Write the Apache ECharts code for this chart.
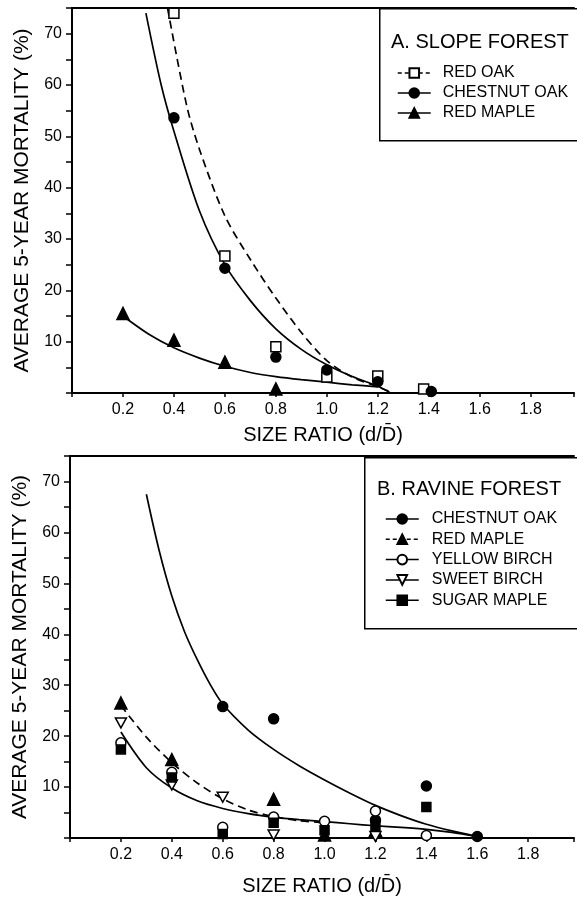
<!DOCTYPE html>
<html>
<head>
<meta charset="utf-8">
<script src="https://cdn.jsdelivr.net/npm/echarts@6/dist/echarts.min.js"></script>
<style>
  html, body { margin: 0; padding: 0; background: #fff; }
  #chart { width: 577px; height: 897px; }
</style>
</head>
<body>
<div id="chart"></div>
<script>
// ---- Panel A: slope forest, points [size ratio, mortality %]
const aRedOak = [[0.4, 74], [0.6, 26.7], [0.8, 9], [1.0, 3.1], [1.2, 3.3], [1.38, 0.8]]
const aChestnutOak = [[0.4, 53.6], [0.6, 24.3], [0.8, 7], [1.0, 4.5], [1.2, 2.2], [1.41, 0.3]]
const aRedMaple = [[0.2, 15.5], [0.4, 10.3], [0.6, 6], [0.8, 0.8]]

// fitted curves
const aRedOakFit = [[0.375, 75], [0.45, 56], [0.5, 47.5], [0.6, 34.5], [0.7, 26], [0.8, 18.5], [0.9, 11.8], [1.0, 6.3], [1.1, 3.1], [1.2, 1.2], [1.26, 0]]
const aChestnutOakFit = [[0.29, 74], [0.35, 60], [0.4, 51], [0.5, 35.5], [0.6, 25], [0.7, 18], [0.8, 12.5], [0.9, 8.5], [1.0, 5.5], [1.1, 3.2], [1.2, 1.3], [1.25, 0]]
const aRedMapleFit = [[0.2, 15], [0.3, 11.5], [0.4, 8.8], [0.5, 6.8], [0.6, 5.2], [0.7, 4], [0.8, 3.2], [0.9, 2.6], [1.0, 2.1], [1.1, 1.6], [1.2, 1.2]]

// ---- Panel B: ravine forest
const bChestnutOak = [[0.6, 25.8], [0.8, 23.4], [1.2, 3.5], [1.4, 10.2], [1.6, 0.3]]
const bRedMaple = [[0.2, 26.5], [0.4, 15.4], [0.8, 7.6], [1.0, 0.6], [1.2, 1.5]]
const bYellowBirch = [[0.2, 18.7], [0.4, 12.9], [0.6, 2.1], [0.8, 4.1], [1.0, 3.3], [1.2, 5.3], [1.4, 0.5]]
const bSweetBirch = [[0.2, 22.6], [0.4, 10.4], [0.6, 8.0], [0.8, 0.6], [1.2, 0.3]]
const bSugarMaple = [[0.2, 17.4], [0.4, 11.9], [0.6, 0.8], [0.8, 3.0], [1.0, 1.5], [1.2, 2.3], [1.4, 6.1]]

const bChestnutOakFit = [[0.3, 67.5], [0.35, 56.5], [0.4, 47.5], [0.45, 40.5], [0.5, 35], [0.55, 30.2], [0.6, 26.3], [0.7, 21.2], [0.8, 17.4], [0.9, 14.2], [1.0, 11.4], [1.1, 8.8], [1.2, 6.4], [1.3, 4.4], [1.4, 2.7], [1.5, 1.4], [1.6, 0.3]]
const bRedMapleFit = [[0.2, 26], [0.3, 19.8], [0.4, 14.8], [0.5, 10.8], [0.6, 7.7], [0.7, 5.5], [0.8, 4.2], [0.9, 3.4], [1.0, 3.0]]
const bBirchFit = [[0.2, 20.8], [0.3, 13.8], [0.4, 9.8], [0.5, 7.3], [0.6, 5.8], [0.7, 4.8], [0.8, 4.1], [0.9, 3.6], [1.0, 3.2], [1.1, 2.8], [1.2, 2.4], [1.3, 2.1], [1.4, 1.7], [1.5, 1.1], [1.6, 0.3]]

const FONT = "'Liberation Sans', Arial, sans-serif"
const DOWN_TRI = 'path://M0,0 L10,0 L5,9 Z'

const chart = echarts.init(document.getElementById('chart'))

const xLabel = v => {
  const r = Math.round(v * 5) / 5
  if (Math.abs(v - r) > 1e-6 || r < 0.15 || r > 1.85) return ''
  return r.toFixed(1)
}
const yLabel = v => (v % 10 === 0 && v > 0 && v <= 70) ? String(v) : ''

const axisLine = { lineStyle: { color: '#000', width: 2 } }

const bottomX = (gridIndex, max, gap) => ({
  type: 'value', gridIndex, min: 0, max, interval: 0.2,
  axisLine,
  axisTick: { show: true, length: 4, lineStyle: { color: '#000', width: 1.5 } },
  axisLabel: { formatter: xLabel, color: '#000', fontSize: 16, fontFamily: FONT, margin: 9 },
  splitLine: { show: false },
  name: 'SIZE RATIO (d/D\u0304)',
  nameLocation: 'middle',
  nameGap: gap,
  nameTextStyle: { color: '#000', fontSize: 20, fontFamily: FONT }
})
const topX = (gridIndex, max) => ({
  type: 'value', gridIndex, min: 0, max, position: 'top',
  axisLine, axisTick: { show: false }, axisLabel: { show: false }, splitLine: { show: false }
})
const leftY = gridIndex => ({
  type: 'value', gridIndex, min: 0, max: 75, interval: 5,
  axisLine,
  axisTick: { show: true, length: 6, lineStyle: { color: '#000', width: 1.5 } },
  axisLabel: { formatter: yLabel, color: '#000', fontSize: 16, fontFamily: FONT, margin: 10 },
  splitLine: { show: false },
  name: 'AVERAGE 5-YEAR MORTALITY (%)',
  nameLocation: 'middle',
  nameGap: 39,
  nameTextStyle: { color: '#000', fontSize: 21, fontFamily: FONT }
})

// point series (type line so the legend shows line + symbol)
const points = (name, data, idx, symbol, open, size) => ({
  name, type: 'line', data, xAxisIndex: idx * 2, yAxisIndex: idx,
  symbol, symbolSize: size || 10, symbolKeepAspect: true,
  itemStyle: { color: open ? '#fff' : '#000', borderColor: '#000', borderWidth: 1.5 },
  lineStyle: { width: 0, opacity: 0 },
  z: 5
})
const fit = (name, data, idx, dashed) => ({
  name, type: 'line', data, xAxisIndex: idx * 2, yAxisIndex: idx,
  smooth: 0.3, showSymbol: false, silent: true,
  lineStyle: { color: '#000', width: 1.7, type: dashed ? [8, 5] : 'solid' },
  z: 3
})
const legendItem = (name, dashed) => ({
  name, lineStyle: { color: '#000', width: 1.5, opacity: 1, type: dashed ? [4, 3] : 'solid' }
})

const option = {
  backgroundColor: '#fff',
  animation: false,
  grid: [
    { left: 72, top: 8, right: 0, height: 385 },
    { left: 70, top: 456, right: 0, height: 384 }
  ],
  xAxis: [bottomX(0, 1.97, 32), topX(0, 1.97), bottomX(1, 1.98, 38), topX(1, 1.98)],
  yAxis: [leftY(0), leftY(1)],
  title: [
    { text: 'A. SLOPE FOREST', left: 391, top: 32, padding: 0,
      textStyle: { fontSize: 20, fontWeight: 'normal', color: '#000', fontFamily: FONT } },
    { text: 'B. RAVINE FOREST', left: 377, top: 479, padding: 0,
      textStyle: { fontSize: 20, fontWeight: 'normal', color: '#000', fontFamily: FONT } }
  ],
  legend: [
    {
      orient: 'vertical', left: 397, top: 65, padding: 0,
      itemWidth: 33, itemHeight: 12, itemGap: 4,
      textStyle: { fontSize: 16, color: '#000', fontFamily: FONT, padding: [0, 0, 0, 7] },
      data: [legendItem('RED OAK', true), legendItem('CHESTNUT OAK'), legendItem('RED MAPLE')]
    },
    {
      orient: 'vertical', left: 385, top: 511, padding: 0,
      itemWidth: 33, itemHeight: 12, itemGap: 4.3,
      textStyle: { fontSize: 16, color: '#000', fontFamily: FONT, padding: [0, 0, 0, 8] },
      data: [legendItem('CHESTNUT OAK'), legendItem('RED MAPLE ', true), legendItem('YELLOW BIRCH'),
        legendItem('SWEET BIRCH'), legendItem('SUGAR MAPLE')]
    }
  ],
  graphic: [
    { type: 'rect', left: 379, top: 8, shape: { width: 230, height: 132 },
      style: { fill: 'transparent', stroke: '#000', lineWidth: 1.5 } },
    { type: 'rect', left: 364, top: 457, shape: { width: 240, height: 171 },
      style: { fill: 'transparent', stroke: '#000', lineWidth: 1.5 } }
  ],
  series: [
    fit('fitA1', aRedOakFit, 0, true),
    fit('fitA2', aChestnutOakFit, 0, false),
    fit('fitA3', aRedMapleFit, 0, false),
    points('RED OAK', aRedOak, 0, 'rect', true, 10),
    points('CHESTNUT OAK', aChestnutOak, 0, 'circle', false, 10),
    points('RED MAPLE', aRedMaple, 0, 'triangle', false, 12),

    fit('fitB1', bChestnutOakFit, 1, false),
    fit('fitB2', bRedMapleFit, 1, true),
    fit('fitB3', bBirchFit, 1, false),
    points('CHESTNUT OAK', bChestnutOak, 1, 'circle', false, 10),
    points('RED MAPLE ', bRedMaple, 1, 'triangle', false, 12),
    points('YELLOW BIRCH', bYellowBirch, 1, 'circle', true, 10),
    points('SWEET BIRCH', bSweetBirch, 1, DOWN_TRI, true, 11),
    points('SUGAR MAPLE', bSugarMaple, 1, 'rect', false, 9)
  ]
}

chart.setOption(option)
</script>
</body>
</html>
